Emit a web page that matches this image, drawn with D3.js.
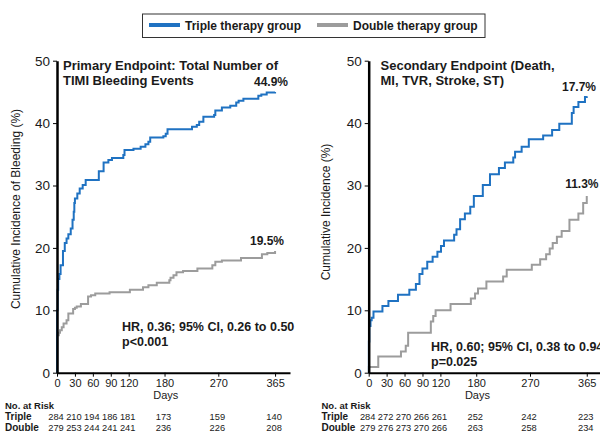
<!DOCTYPE html>
<html>
<head>
<meta charset="utf-8">
<script src="https://cdn.jsdelivr.net/npm/d3@7"></script>
<style>
  html, body { margin: 0; padding: 0; background: #fff; }
  svg { display: block; font-family: "Liberation Sans", Arial, sans-serif; }
</style>
</head>
<body>
<svg id="chart" width="600" height="434"></svg>
<script>
// ---------- DATA ----------
const seriesNames = ["Triple therapy group", "Double therapy group"];
const yTicks = [0, 10, 20, 30, 40, 50];
const xTicks = [0, 30, 60, 90, 120, 180, 270, 365];

// Left panel: Primary endpoint (TIMI bleeding)
const leftTripleDays = [0,0.2,1,2,4,6,10,13,16,19,23,26,28,29,30,34,38,43,48,70,78,86,92,111,113,128,140,148,153,156,178,182,185,226,234,238,245,263,265,276,290,300,304,312,337,342,351,365];
const leftTripleVals = [0,10,13.3,15,15.8,17.2,19.5,20.8,21.5,22.2,23.1,24.5,25.8,27.2,27.9,28.7,29.5,30.1,30.9,32.3,33.7,34.1,34.4,34.9,35.7,35.9,36.2,36.6,37.0,37.7,37.9,38.3,39.0,39.4,39.7,40.2,41.0,41.3,42.0,42.5,42.8,43.3,43.6,43.9,44.4,44.6,44.9,45.0];
const leftDoubleDays = [0,0.3,3,5,8,11,16,19,27,30,33,40,52,57,64,88,122,144,153,167,188,190,195,200,211,235,260,265,276,308,343,352,365];
const leftDoubleVals = [0,6.0,6.4,6.8,7.3,7.9,8.4,9.5,10.2,10.4,10.6,11.0,12.2,12.4,12.7,12.9,13.3,13.7,14.0,14.4,14.8,15.2,15.6,16.1,16.3,16.7,17.2,17.8,18.0,18.4,19.0,19.2,19.5];

// Right panel: Secondary endpoint
const rightTripleDays = [0,0.3,1,3,5,8,23,33,49,68,79,85,90,98,107,115,121,126,143,147,153,161,170,176,191,203,218,228,242,245,256,268,292,307,319,340,343,351,362,365];
const rightTripleVals = [0,5,7.5,8.4,8.8,9.8,10.7,11.5,12.5,13.3,14.2,15.8,16.7,17.8,18.6,19.4,20.3,21.2,22.1,23.0,24.6,25.5,26.6,28.3,30.1,31.8,32.8,33.7,34.5,35.4,36.2,37.4,38.0,38.9,39.9,41.6,42.6,43.4,44.2,44.3];
const rightDoubleDays = [0,0.3,16,54,62,66,104,108,112,137,171,178,183,197,225,231,273,287,297,303,308,315,323,336,351,359,365];
const rightDoubleVals = [0,0.9,2.6,3.4,4.3,6.4,8.2,9.1,10.0,11.0,11.9,12.7,13.5,14.6,15.4,16.5,17.3,18.2,19.0,19.9,20.8,21.8,22.7,24.5,25.5,27.2,28.3];

// Numbers at risk
const riskDays = [0, 30, 60, 90, 120, 180, 270, 365];
const leftRiskTriple = [284, 210, 194, 186, 181, 173, 159, 140];
const leftRiskDouble = [279, 253, 244, 241, 241, 236, 226, 208];
const rightRiskTriple = [284, 272, 270, 266, 261, 252, 242, 223];
const rightRiskDouble = [279, 276, 273, 270, 266, 263, 258, 234];

// Texts
const leftTitle = ["Primary Endpoint: Total Number of", "TIMI Bleeding Events"];
const rightTitle = ["Secondary Endpoint (Death,", "MI, TVR, Stroke, ST)"];
const leftYLabel = "Cumulative Incidence of Bleeding (%)";
const rightYLabel = "Cumulative Incidence (%)";
const leftEnd = ["44.9%", "19.5%"];
const rightEnd = ["17.7%", "11.3%"];
const leftStats = ["HR, 0.36; 95% CI, 0.26 to 0.50", "p<0.001"];
const rightStats = ["HR, 0.60; 95% CI, 0.38 to 0.94", "p=0.025"];

// ---------- STYLE / LAYOUT ----------
const BLUE = "#1f72c2";
const GRAY = "#9c9c9c";
const TXT = "#1a1a1a";
const svg = d3.select("#chart");

function panel(opt) {
  const g = svg.append("g");
  const x = d3.scaleLinear().domain([0, 390]).range([opt.x0, opt.x0 + 233]);
  const y = d3.scaleLinear().domain([0, 50]).range([372.7, 60.7]);

  // curves
  const line = d3.line().x(d => x(d[0])).y(d => y(d[1])).curve(d3.curveStepAfter);
  const mk = (days, vals) => days.map((d, i) => [d, vals[i]]);
  g.append("path").datum(mk(opt.dDays, opt.dVals))
    .attr("d", line).attr("fill", "none").attr("stroke", GRAY).attr("stroke-width", 2);
  g.append("path").datum(mk(opt.tDays, opt.tVals))
    .attr("d", line).attr("fill", "none").attr("stroke", BLUE).attr("stroke-width", 2);

  // x axis
  const xa = g.append("g").attr("transform", `translate(0,${y(0)})`)
    .call(d3.axisBottom(x).tickValues(xTicks).tickSize(4).tickSizeOuter(0).tickPadding(3));
  xa.select(".domain").attr("stroke", "#000").attr("stroke-width", 2);
  xa.selectAll(".tick line").attr("stroke", "#000").attr("stroke-width", 1);
  xa.selectAll("text").attr("font-size", 11).attr("fill", TXT)
    .attr("font-family", "'Liberation Sans', Arial, sans-serif");

  // y axis
  const ya = g.append("g").attr("transform", `translate(${opt.x0},0)`)
    .call(d3.axisLeft(y).tickValues(yTicks).tickSize(4).tickSizeOuter(0).tickPadding(3));
  ya.select(".domain").attr("stroke", "#000").attr("stroke-width", 2.5);
  ya.selectAll(".tick line").attr("stroke", "#000").attr("stroke-width", 1);
  ya.selectAll("text").attr("font-size", 13.5).attr("fill", TXT)
    .attr("font-family", "'Liberation Sans', Arial, sans-serif");

  // y label
  g.append("text").attr("transform", `translate(${opt.yLabX},${opt.yLabY}) rotate(-90)`)
    .attr("text-anchor", "middle").attr("dominant-baseline", "middle")
    .attr("font-size", 12).attr("fill", TXT).text(opt.yLabel);

  // x label
  g.append("text").attr("x", x(182)).attr("y", 399).attr("text-anchor", "middle")
    .attr("font-size", 11).attr("fill", TXT).text("Days");

  // title
  g.selectAll(".ttl").data(opt.title).enter().append("text")
    .attr("x", opt.titleX).attr("y", (d, i) => 69.5 + i * 15.5)
    .attr("font-size", 13).attr("font-weight", "bold").attr("fill", TXT).text(d => d);

  // end labels
  opt.endPos.forEach((p, i) => {
    g.append("text").attr("x", p[0]).attr("y", p[1]).attr("text-anchor", "end")
      .attr("font-size", 12).attr("font-weight", "bold").attr("fill", TXT).text(opt.endTxt[i]);
  });

  // stats
  g.selectAll(".st").data(opt.stats).enter().append("text")
    .attr("x", opt.statX).attr("y", (d, i) => opt.statY + i * 14.5)
    .attr("font-size", 12.5).attr("font-weight", "bold").attr("fill", TXT).text(d => d);

  // risk table
  const tx = opt.tableX;
  g.append("text").attr("x", tx).attr("y", 409).attr("font-size", 9.5)
    .attr("font-weight", "bold").attr("fill", TXT).text("No. at Risk");
  g.append("text").attr("x", tx).attr("y", 420).attr("font-size", 10)
    .attr("font-weight", "bold").attr("fill", TXT).text("Triple");
  g.append("text").attr("x", tx).attr("y", 431).attr("font-size", 10)
    .attr("font-weight", "bold").attr("fill", TXT).text("Double");
  g.selectAll(".rt").data(opt.riskT).enter().append("text")
    .attr("x", (d, i) => x(riskDays[i]) - 1).attr("y", 420).attr("text-anchor", "middle")
    .attr("font-size", 9.3).attr("fill", TXT).text(d => d);
  g.selectAll(".rd").data(opt.riskD).enter().append("text")
    .attr("x", (d, i) => x(riskDays[i]) - 1).attr("y", 431).attr("text-anchor", "middle")
    .attr("font-size", 9.3).attr("fill", TXT).text(d => d);
}

panel({
  x0: 57, tDays: leftTripleDays, tVals: leftTripleVals, dDays: leftDoubleDays, dVals: leftDoubleVals,
  yLabel: leftYLabel, yLabX: 17, yLabY: 209, title: leftTitle, titleX: 63,
  endTxt: leftEnd, endPos: [[288, 86], [284, 245]],
  stats: leftStats, statX: 122, statY: 331,
  tableX: 5, riskT: leftRiskTriple, riskD: leftRiskDouble
});
panel({
  x0: 368.7, tDays: rightTripleDays, tVals: rightTripleVals, dDays: rightDoubleDays, dVals: rightDoubleVals,
  yLabel: rightYLabel, yLabX: 327, yLabY: 212, title: rightTitle, titleX: 380.5,
  endTxt: rightEnd, endPos: [[596, 91], [598.5, 188]],
  stats: rightStats, statX: 431, statY: 351,
  tableX: 321.5, riskT: rightRiskTriple, riskD: rightRiskDouble
});

// legend
const lg = svg.append("g");
lg.append("rect").attr("x", 142.5).attr("y", 14).attr("width", 342.5).attr("height", 23.5)
  .attr("fill", "#fff").attr("stroke", "#333").attr("stroke-width", 1);
const legX = [149, 317];
const legColors = [BLUE, GRAY];
seriesNames.forEach((n, i) => {
  lg.append("line").attr("x1", legX[i]).attr("x2", legX[i] + 31).attr("y1", 25).attr("y2", 25)
    .attr("stroke", legColors[i]).attr("stroke-width", 4);
  lg.append("text").attr("x", legX[i] + 36).attr("y", 29.5).attr("font-size", 12)
    .attr("font-weight", "bold").attr("fill", TXT).text(n);
});
</script>
</body>
</html>
